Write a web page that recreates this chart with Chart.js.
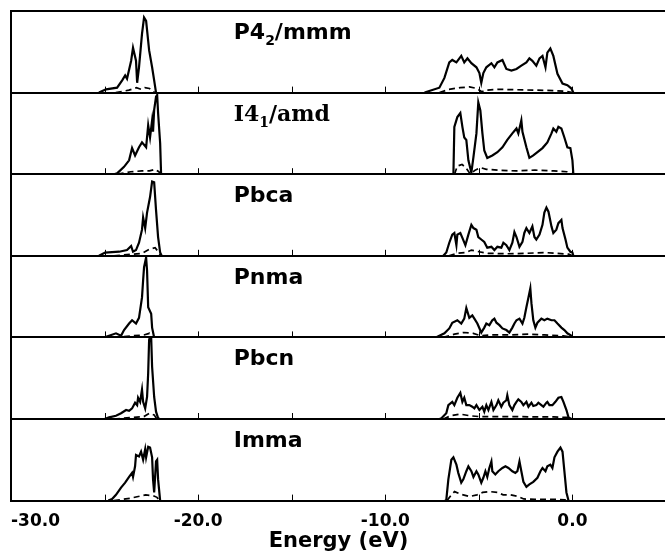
<!DOCTYPE html>
<html>
<head>
<meta charset="utf-8">
<script src="https://cdn.jsdelivr.net/npm/chart.js@4.4.1/dist/chart.umd.min.js"></script>
<style>
html, body { margin: 0; padding: 0; background: #fff; overflow: hidden; }
</style>
</head>
<body>
<!-- canvas un peu plus large que la fenêtre : la marge droite de l'axe x tombe hors champ -->
<canvas id="dos" width="677" height="559"></canvas>
<script>
// phases, top panel first ("_" marks the subscript digit)
const phases = ['P4_2/mmm', 'I4_1/amd', 'Pbca', 'Pnma', 'Pbcn', 'Imma'];
const xTickLabels = [-30, -20, -10, 0];

// [energy (eV), DOS], solid = total, dashed = partial
const p42Tot = [[-25.3,0],[-24.92,4],[-24.33,6],[-24.06,15],[-23.9,21],[-23.8,17],[-23.58,39],[-23.48,55],[-23.32,39],[-23.26,12],[-23.16,31],[-23.0,72],[-22.89,92],[-22.78,88],[-22.62,52],[-22.46,31],[-22.35,15],[-22.25,0],
  [-15,null],
  [-7.9,0],[-7.65,2],[-7.11,6],[-6.84,18],[-6.58,37],[-6.42,40],[-6.2,37],[-5.94,45],[-5.78,37],[-5.61,42],[-5.4,36],[-5.13,31],[-4.97,24],[-4.87,12],[-4.76,24],[-4.6,31],[-4.33,36],[-4.17,31],[-4.01,37],[-3.74,40],[-3.53,29],[-3.26,27],[-2.99,29],[-2.73,33],[-2.46,37],[-2.3,42],[-2.14,39],[-1.93,33],[-1.76,42],[-1.6,45],[-1.44,31],[-1.34,49],[-1.18,54],[-1.02,45],[-0.8,23],[-0.53,11],[-0.27,9],[-0.05,5],[0.05,0]];
const p42Part = [[-24.4,0],[-23.7,3],[-23.3,6],[-23.05,4],[-22.85,6],[-22.6,5],[-22.4,1],[-22.3,0],
  [-15,null],
  [-7.1,0],[-6.6,4],[-6.0,6],[-5.5,7],[-5.1,5],[-4.85,1],[-4.6,3],[-4.0,4],[-3.0,3.5],[-2.0,3],[-1.0,2.5],[-0.3,1.5],[0,0]];

const i41Tot = [[-24.5,0],[-24.33,1],[-23.96,9],[-23.69,17],[-23.53,32],[-23.37,23],[-23.16,33],[-23.0,39],[-22.78,33],[-22.67,60],[-22.57,45],[-22.46,66],[-22.41,52],[-22.35,79],[-22.25,95],[-22.19,97],[-22.14,75],[-22.03,38],[-21.98,0],
  [-15,null],
  [-6.36,0],[-6.31,58],[-6.15,70],[-5.99,75],[-5.88,58],[-5.78,45],[-5.67,42],[-5.56,17],[-5.4,2],[-5.29,21],[-5.13,50],[-5.03,88],[-4.92,78],[-4.81,50],[-4.71,29],[-4.55,20],[-4.28,23],[-4.01,27],[-3.74,33],[-3.48,42],[-3.21,50],[-2.99,56],[-2.89,50],[-2.73,66],[-2.67,52],[-2.46,33],[-2.3,20],[-2.09,23],[-1.87,27],[-1.6,32],[-1.34,39],[-1.12,50],[-1.02,56],[-0.86,52],[-0.75,58],[-0.59,56],[-0.43,45],[-0.27,33],[-0.11,32],[0,17],[0.05,0]];
const i41Part = [[-24.3,0],[-23.6,3],[-23.0,4],[-22.6,4],[-22.3,6],[-22.1,3],[-22.0,0],
  [-15,null],
  [-6.3,0],[-6.15,10],[-5.9,12],[-5.7,8],[-5.45,0],[-5.2,5],[-4.9,8],[-4.6,6],[-4.0,5],[-3.0,4],[-2.0,5],[-1.0,4],[-0.3,3],[0,0]];

const pbcaTot = [[-25.3,0],[-24.97,4],[-24.22,5],[-23.8,7],[-23.58,12],[-23.48,5],[-23.32,7],[-23.16,16],[-23.0,32],[-22.94,47],[-22.83,34],[-22.73,53],[-22.57,72],[-22.46,91],[-22.35,90],[-22.25,56],[-22.14,23],[-22.03,4],[-21.95,0],
  [-15,null],
  [-6.9,0],[-6.74,4],[-6.58,16],[-6.42,26],[-6.31,28],[-6.2,13],[-6.15,26],[-5.99,28],[-5.88,22],[-5.72,13],[-5.56,26],[-5.4,38],[-5.29,34],[-5.13,32],[-5.03,23],[-4.87,20],[-4.71,17],[-4.55,10],[-4.33,11],[-4.17,7],[-4.01,11],[-3.8,10],[-3.69,16],[-3.53,13],[-3.37,7],[-3.21,16],[-3.1,29],[-2.99,23],[-2.83,11],[-2.67,17],[-2.57,28],[-2.46,34],[-2.3,28],[-2.14,36],[-2.03,23],[-1.93,20],[-1.76,26],[-1.6,38],[-1.5,53],[-1.39,59],[-1.28,54],[-1.12,36],[-1.02,28],[-0.86,32],[-0.75,40],[-0.59,44],[-0.53,34],[-0.37,20],[-0.27,10],[-0.11,5],[0,4],[0.05,0]];
const pbcaPart = [[-24.5,0],[-23.5,2],[-23.0,3],[-22.6,8],[-22.3,10],[-22.1,4],[-22.0,0],
  [-15,null],
  [-6.6,0],[-6.2,3],[-5.7,4],[-5.4,7],[-5.0,5],[-4.5,3],[-3.5,2.5],[-2.5,3],[-1.5,4],[-0.8,3],[-0.2,2],[0,0]];

const pnmaTot = [[-25.0,0],[-24.76,2],[-24.39,5],[-24.12,2],[-23.96,9],[-23.69,17],[-23.53,21],[-23.32,17],[-23.16,24],[-23.0,49],[-22.94,70],[-22.89,86],[-22.78,98],[-22.73,82],[-22.67,37],[-22.51,29],[-22.46,12],[-22.35,0],
  [-15,null],
  [-7.3,0],[-7.11,2],[-6.84,5],[-6.58,11],[-6.42,18],[-6.15,21],[-5.94,17],[-5.78,23],[-5.67,36],[-5.51,24],[-5.35,27],[-5.24,23],[-5.08,17],[-4.87,6],[-4.71,12],[-4.6,17],[-4.44,15],[-4.28,21],[-4.17,23],[-4.06,18],[-3.9,15],[-3.74,11],[-3.53,9],[-3.37,6],[-3.21,12],[-3.1,17],[-2.99,21],[-2.83,23],[-2.67,17],[-2.57,24],[-2.46,37],[-2.35,49],[-2.25,60],[-2.19,42],[-2.09,21],[-1.98,12],[-1.87,18],[-1.66,23],[-1.5,21],[-1.34,23],[-1.12,21],[-0.96,21],[-0.8,17],[-0.59,12],[-0.43,9],[-0.27,5],[-0.05,2],[0,0]];
const pnmaPart = [[-24.5,0],[-23.5,2],[-22.9,3],[-22.6,5],[-22.4,1],[-22.3,0],
  [-15,null],
  [-6.9,0],[-6.3,4],[-5.8,6],[-5.3,5],[-4.9,2],[-4.3,3],[-3.3,3],[-2.3,4],[-1.5,3],[-0.5,2],[0,0]];

const pbcnTot = [[-25.0,0],[-24.76,2],[-24.39,4],[-24.12,7],[-23.85,11],[-23.69,10],[-23.53,13],[-23.37,20],[-23.26,17],[-23.21,26],[-23.1,21],[-23.0,36],[-22.94,21],[-22.83,13],[-22.73,27],[-22.67,56],[-22.62,97],[-22.57,101],[-22.51,100],[-22.46,64],[-22.35,27],[-22.25,9],[-22.14,1],[-22.05,0],
  [-15,null],
  [-7.1,0],[-7.0,1],[-6.74,7],[-6.63,17],[-6.42,21],[-6.31,17],[-6.15,26],[-5.99,32],[-5.88,21],[-5.78,26],[-5.67,17],[-5.51,17],[-5.35,15],[-5.24,13],[-5.13,17],[-4.97,11],[-4.81,15],[-4.71,9],[-4.6,17],[-4.49,11],[-4.33,21],[-4.22,11],[-4.06,17],[-3.96,23],[-3.8,15],[-3.69,20],[-3.53,23],[-3.48,29],[-3.37,17],[-3.21,11],[-3.1,17],[-2.99,21],[-2.89,24],[-2.73,21],[-2.62,17],[-2.46,21],[-2.35,15],[-2.19,20],[-2.09,16],[-1.93,17],[-1.82,20],[-1.66,17],[-1.55,15],[-1.39,20],[-1.34,21],[-1.23,17],[-1.07,17],[-0.91,21],[-0.75,26],[-0.59,27],[-0.48,21],[-0.32,11],[-0.21,2],[-0.05,0]];
const pbcnPart = [[-24.5,0],[-23.5,2],[-22.9,3],[-22.6,7],[-22.35,5],[-22.2,0],
  [-15,null],
  [-6.9,0],[-6.5,4],[-6.0,6],[-5.5,4],[-5.0,3],[-4.0,3],[-3.0,3],[-2.0,2.5],[-1.0,2.5],[-0.3,2],[-0.1,0]];

const immaTot = [[-24.8,0],[-24.6,2],[-24.39,7],[-24.12,16],[-23.9,22],[-23.69,29],[-23.53,34],[-23.48,29],[-23.37,42],[-23.32,56],[-23.16,54],[-23.05,60],[-22.94,50],[-22.83,63],[-22.78,53],[-22.67,66],[-22.57,65],[-22.46,53],[-22.41,26],[-22.35,10],[-22.25,48],[-22.19,50],[-22.14,26],[-22.03,0],
  [-15,null],
  [-6.8,0],[-6.74,1],[-6.63,26],[-6.47,50],[-6.36,53],[-6.2,44],[-6.1,34],[-5.94,22],[-5.83,26],[-5.67,36],[-5.56,42],[-5.4,36],[-5.29,29],[-5.13,36],[-5.03,32],[-4.87,22],[-4.76,28],[-4.65,36],[-4.55,29],[-4.44,40],[-4.33,48],[-4.28,36],[-4.12,32],[-3.96,36],[-3.74,40],[-3.58,42],[-3.42,40],[-3.21,36],[-3.05,34],[-2.94,36],[-2.83,48],[-2.73,36],[-2.62,23],[-2.46,17],[-2.3,20],[-2.09,23],[-1.87,28],[-1.71,36],[-1.6,40],[-1.44,36],[-1.34,42],[-1.18,44],[-1.07,40],[-0.96,53],[-0.8,60],[-0.64,65],[-0.53,60],[-0.43,36],[-0.32,10],[-0.21,0]];
const immaPart = [[-24.5,0],[-23.6,3],[-23.2,5],[-22.8,7],[-22.4,6],[-22.2,4],[-22.05,0],
  [-15,null],
  [-6.7,0],[-6.5,6],[-6.3,11],[-6.0,8],[-5.5,5],[-5.1,7],[-4.8,10],[-4.4,11],[-4.0,10],[-3.7,7],[-3.3,7],[-2.9,5],[-2.6,2],[-2.0,1.5],[-1.0,1.5],[-0.4,1],[-0.3,0]];

const totals = [p42Tot, i41Tot, pbcaTot, pnmaTot, pbcnTot, immaTot];
const partials = [p42Part, i41Part, pbcaPart, pnmaPart, pbcnPart, immaPart];

const sans = '"DejaVu Sans", sans-serif';

// un jeu de données plein + un pointillé par panneau
let datasets = [];
phases.forEach(function (name, i) {
    datasets.push({
        label: name + ' total',
        data: totals[i],
        yAxisID: 'y' + i,
        borderColor: '#000',
        borderWidth: 2.2,
        pointRadius: 0,
        tension: 0
    });
    datasets.push({
        label: name + ' partial',
        data: partials[i],
        yAxisID: 'y' + i,
        borderColor: '#000',
        borderWidth: 1.7,
        borderDash: [6, 4],
        pointRadius: 0,
        tension: 0
    });
});

let scales = {
    x: {
        type: 'linear',
        position: 'bottom',
        min: -30,
        max: 5,
        grid: { display: false, drawTicks: false },
        border: { display: true, color: '#000', width: 2 },
        ticks: {
            stepSize: 5,
            autoSkip: false,
            maxRotation: 0,
            align: 'inner',
            padding: 11,
            color: '#000',
            font: { family: sans, weight: 'bold', size: 17 },
            callback: function (v) {
                return xTickLabels.includes(v) ? v.toFixed(1) : '';
            }
        },
        title: {
            display: true,
            text: 'Energy (eV)',
            color: '#000',
            padding: { top: -12, bottom: 7 },
            font: { family: sans, weight: 'bold', size: 21, lineHeight: 1 }
        }
    }
};
// axes y empilés, un par panneau
phases.forEach(function (name, i) {
    scales['y' + i] = {
        type: 'linear',
        position: 'left',
        stack: 'dos',
        stackWeight: 1,
        weight: phases.length - i,
        min: 0,
        max: 100,
        afterBuildTicks: function (s) { s.ticks = [{ value: 0 }, { value: 100 }]; },
        ticks: { display: false },
        grid: { color: '#000', lineWidth: 2, drawTicks: false },
        border: { display: true, color: '#000', width: 2 }
    };
});

// petits traits vers l'intérieur + noms des phases
const panelMarks = {
    id: 'panelMarks',
    afterDraw: function (chart) {
        const ctx = chart.ctx;
        const xs = chart.scales.x;
        ctx.save();
        ctx.strokeStyle = '#000';
        ctx.lineWidth = 1;
        phases.forEach(function (name, i) {
            const ys = chart.scales['y' + i];
            const yb = ys.getPixelForValue(0);
            xs.ticks.forEach(function (t) {
                if (t.value <= xs.min || t.value >= xs.max) return;
                const px = Math.round(xs.getPixelForValue(t.value)) + 0.5;
                ctx.beginPath();
                ctx.moveTo(px, yb);
                ctx.lineTo(px, yb - 6);
                ctx.stroke();
            });
            drawLabel(ctx, name, xs.getPixelForValue(-18.1), ys.getPixelForValue(100) + 28, i === 1);
        });
        ctx.restore();
    }
};

function drawLabel(ctx, txt, x, y, serif) {
    const fam = serif ? '"DejaVu Serif", serif' : sans;
    const big = 'bold 22px ' + fam;
    const small = 'bold 14px ' + fam;
    ctx.fillStyle = '#000';
    ctx.textAlign = 'left';
    ctx.textBaseline = 'alphabetic';
    const parts = txt.split('_');
    ctx.font = big;
    ctx.fillText(parts[0], x, y);
    x += ctx.measureText(parts[0]).width;
    if (parts.length > 1) {
        const sub = parts[1][0];
        const rest = parts[1].slice(1);
        ctx.font = small;
        ctx.fillText(sub, x, y + 6);
        x += ctx.measureText(sub).width;
        ctx.font = big;
        ctx.fillText(rest, x, y);
    }
}

const chart = new Chart(document.getElementById('dos').getContext('2d'), {
    type: 'line',
    data: { datasets: datasets },
    options: {
        responsive: false,
        animation: false,
        layout: { padding: { left: 11, top: 11, right: 0, bottom: 0 } },
        plugins: {
            legend: { display: false },
            tooltip: { enabled: false }
        },
        scales: scales
    },
    plugins: [panelMarks]
});
</script>
</body>
</html>
